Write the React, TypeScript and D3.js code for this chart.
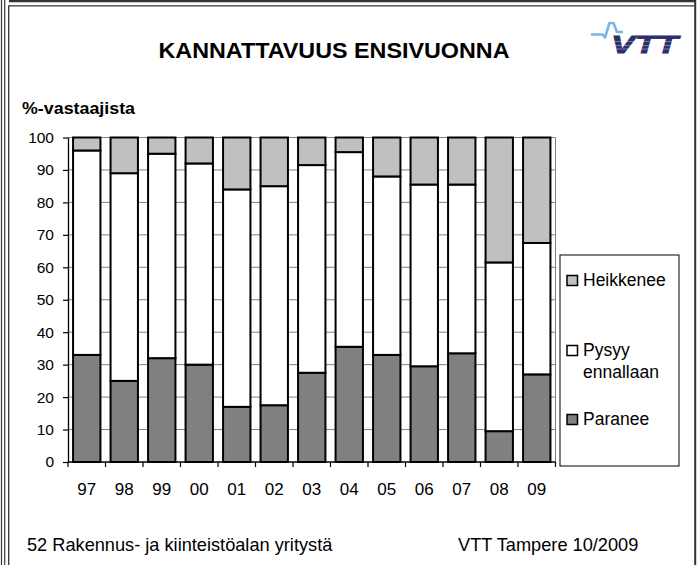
import * as d3 from 'd3';
import { useEffect, useRef } from 'react';

const years = ['97', '98', '99', '00', '01', '02', '03', '04', '05', '06', '07', '08', '09'];
const paranee = [33, 25, 32, 30, 17, 17.5, 27.5, 35.5, 33, 29.5, 33.5, 9.5, 27];
const pysyy = [63, 64, 63, 62, 67, 67.5, 64, 60, 55, 56, 52, 52, 40.5];
const heikkenee = [4, 11, 5, 8, 16, 15, 8.5, 4.5, 12, 14.5, 14.5, 38.5, 32.5];
const yTicks = [0, 10, 20, 30, 40, 50, 60, 70, 80, 90, 100];

const seriesNames = ['Paranee', 'Pysyy', 'Heikkenee'];
const seriesColors = ['#808080', '#ffffff', '#c0c0c0'];

const FONT = '"Liberation Sans", Arial, sans-serif';

const App = () => {
  const ref = useRef<SVGSVGElement | null>(null);

  useEffect(() => {
    const svg = d3.select(ref.current);
    svg.selectAll('*').remove();

    var W = 699,
      H = 565;
    svg.attr('width', W).attr('height', H);

    svg.append('rect').attr('width', W).attr('height', H).attr('fill', 'white');

    // frame lines
    const frame = svg.append('g').attr('stroke', '#333');
    frame.append('line').attr('x1', 9).attr('x2', 695).attr('y1', 1).attr('y2', 1).attr('stroke-width', 2.5);
    frame.append('line').attr('x1', 1.5).attr('x2', 1.5).attr('y1', 0).attr('y2', H).attr('stroke-width', 1.2);
    frame.append('line').attr('x1', 4.7).attr('x2', 4.7).attr('y1', 0).attr('y2', H).attr('stroke-width', 1.2);
    frame.append('line').attr('x1', 8.7).attr('x2', 8.7).attr('y1', 5.5).attr('y2', H).attr('stroke-width', 1.3);
    frame.append('line').attr('x1', 8.7).attr('x2', 694).attr('y1', 5.8).attr('y2', 5.8).attr('stroke-width', 1.2);
    frame.append('line').attr('x1', 695.2).attr('x2', 695.2).attr('y1', 0).attr('y2', H).attr('stroke-width', 2);

    // title
    svg
      .append('text')
      .attr('x', 334)
      .attr('y', 57.5)
      .attr('text-anchor', 'middle')
      .attr('font-family', FONT)
      .attr('font-weight', 'bold')
      .attr('font-size', 22)
      .attr('textLength', 351)
      .attr('lengthAdjust', 'spacingAndGlyphs')
      .text('KANNATTAVUUS ENSIVUONNA');

    // logo
    const logo = svg.append('g');
    logo
      .append('path')
      .attr('d', 'M591,34.5 L602.5,34.5 L605,37.5 L609.5,23 L613.5,23 L617,32 L623,32')
      .attr('fill', 'none')
      .attr('stroke', '#7fb3e3')
      .attr('stroke-width', 2.6)
      .attr('stroke-linejoin', 'round');
    logo
      .append('text')
      .attr('x', 611)
      .attr('y', 52.5)
      .attr('font-family', FONT)
      .attr('font-weight', 900)
      .attr('font-style', 'italic')
      .attr('font-size', 23.5)
      .attr('fill', '#2c2f6c')
      .attr('stroke', '#2c2f6c')
      .attr('stroke-width', 0.8)
      .attr('textLength', 67)
      .attr('lengthAdjust', 'spacingAndGlyphs')
      .text('VTT');
    [41.5, 45.5, 49].forEach((yy) => {
      logo
        .append('line')
        .attr('x1', 608)
        .attr('x2', 684)
        .attr('y1', yy)
        .attr('y2', yy)
        .attr('stroke', 'white')
        .attr('stroke-width', 0.6)
        .attr('opacity', 0.6);
    });

    // y label
    svg
      .append('text')
      .attr('x', 22)
      .attr('y', 114)
      .attr('font-family', FONT)
      .attr('font-weight', 'bold')
      .attr('font-size', 16)
      .attr('textLength', 113)
      .attr('lengthAdjust', 'spacingAndGlyphs')
      .text('%-vastaajista');

    var left = 68,
      right = 555.5,
      top = 137.5,
      bottom = 462;

    const x = d3.scaleBand().domain(years).range([left, right]).paddingInner(0.27).paddingOuter(0.135);
    const y = d3.scaleLinear().domain([0, 100]).range([bottom, top]);

    // gridlines
    svg
      .append('g')
      .selectAll('line')
      .data(yTicks.slice(1))
      .join('line')
      .attr('x1', left)
      .attr('x2', right)
      .attr('y1', (d) => y(d))
      .attr('y2', (d) => y(d))
      .attr('stroke', '#808080')
      .attr('stroke-width', 1);
    svg
      .append('line')
      .attr('x1', right)
      .attr('x2', right)
      .attr('y1', top)
      .attr('y2', bottom)
      .attr('stroke', '#808080')
      .attr('stroke-width', 1);

    // stacked bars
    const table = years.map((yr, i) => ({ yr, Paranee: paranee[i], Pysyy: pysyy[i], Heikkenee: heikkenee[i] }));
    const stacked = d3.stack<any>().keys(seriesNames)(table);

    stacked.forEach((layer, li) => {
      svg
        .append('g')
        .selectAll('rect')
        .data(layer)
        .join('rect')
        .attr('x', (d: any) => x(d.data.yr)!)
        .attr('width', x.bandwidth())
        .attr('y', (d) => y(Math.min(d[1], 100)))
        .attr('height', (d) => y(d[0]) - y(Math.min(d[1], 100)))
        .attr('fill', seriesColors[li])
        .attr('stroke', 'black')
        .attr('stroke-width', 2);
    });

    // y axis
    const yAxis = svg
      .append('g')
      .attr('transform', `translate(${left},0)`)
      .call(d3.axisLeft(y).tickValues(yTicks).tickSize(5).tickPadding(9).tickSizeOuter(0));
    yAxis.select('.domain').attr('stroke', 'black').attr('stroke-width', 1.3);
    yAxis.selectAll('line').attr('stroke', 'black').attr('stroke-width', 1.2);
    yAxis.selectAll('text').attr('font-family', FONT).attr('font-size', 15.5).attr('fill', 'black');

    // x axis
    const xAxisG = svg.append('g');
    xAxisG
      .append('line')
      .attr('x1', left)
      .attr('x2', right)
      .attr('y1', bottom)
      .attr('y2', bottom)
      .attr('stroke', 'black')
      .attr('stroke-width', 1.3);
    const step = x.step();
    const bounds = d3.range(years.length + 1).map((i) => left + i * step);
    xAxisG
      .selectAll('line.tick')
      .data(bounds)
      .join('line')
      .attr('class', 'tick')
      .attr('x1', (d) => d)
      .attr('x2', (d) => d)
      .attr('y1', bottom)
      .attr('y2', bottom + 5)
      .attr('stroke', 'black')
      .attr('stroke-width', 1.2);
    xAxisG
      .selectAll('text')
      .data(years)
      .join('text')
      .attr('x', (d) => x(d)! + x.bandwidth() / 2)
      .attr('y', 495)
      .attr('text-anchor', 'middle')
      .attr('font-family', FONT)
      .attr('font-size', 17)
      .text((d) => d);

    // legend
    const lg = svg.append('g');
    lg.append('rect')
      .attr('x', 560)
      .attr('y', 255)
      .attr('width', 119)
      .attr('height', 211)
      .attr('fill', 'white')
      .attr('stroke', 'black')
      .attr('stroke-width', 1);
    const legendItems = [
      { name: 'Heikkenee', color: seriesColors[2], sy: 275.5, lines: ['Heikkenee'] },
      { name: 'Pysyy', color: seriesColors[1], sy: 345.5, lines: ['Pysyy', 'ennallaan'] },
      { name: 'Paranee', color: seriesColors[0], sy: 414.5, lines: ['Paranee'] },
    ];
    legendItems.forEach((it) => {
      lg.append('rect')
        .attr('x', 567)
        .attr('y', it.sy)
        .attr('width', 10.5)
        .attr('height', 10)
        .attr('fill', it.color)
        .attr('stroke', 'black')
        .attr('stroke-width', 1.5);
      it.lines.forEach((t, k) => {
        lg.append('text')
          .attr('x', 583)
          .attr('y', it.sy + 10.5 + k * 22)
          .attr('font-family', FONT)
          .attr('font-size', 17.5)
          .text(t);
      });
    });

    // footer
    svg
      .append('text')
      .attr('x', 27)
      .attr('y', 551)
      .attr('font-family', FONT)
      .attr('font-size', 18.2)
      .text('52 Rakennus- ja kiinteistöalan yritystä');
    svg
      .append('text')
      .attr('x', 458)
      .attr('y', 551)
      .attr('font-family', FONT)
      .attr('font-size', 18.2)
      .text('VTT Tampere 10/2009');
  }, []);

  return <svg ref={ref} style={{ position: 'fixed', left: 0, top: 0 }}></svg>;
};

export default App;
